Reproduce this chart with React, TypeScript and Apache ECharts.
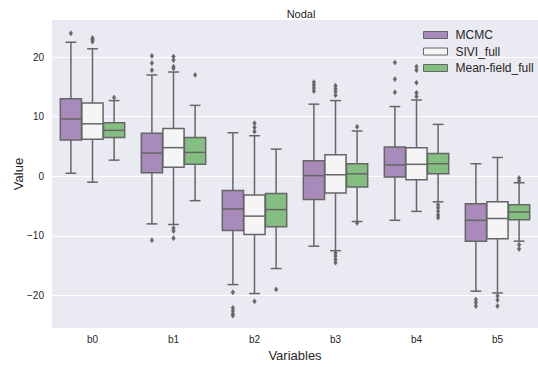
import React, { useEffect, useRef } from "react";
import * as echarts from "echarts";

const categories = ["b0", "b1", "b2", "b3", "b4", "b5"];
const seriesNames = ["MCMC", "SIVI_full", "Mean-field_full"];

// [lower whisker, Q1, median, Q3, upper whisker]
const mcmcBoxes = [
  [0.5, 6.1, 9.6, 13.0, 22.5],
  [-8.0, 0.6, 3.9, 7.2, 17.0],
  [-18.2, -9.1, -5.5, -2.4, 7.3],
  [-11.75, -3.9, 0.1, 2.6, 12.1],
  [-7.4, -0.15, 1.9, 4.9, 11.7],
  [-19.3, -10.9, -7.4, -4.6, 2.1],
];
const siviBoxes = [
  [-1.0, 6.2, 8.8, 12.3, 21.4],
  [-8.1, 1.5, 4.8, 8.0, 17.5],
  [-19.7, -9.8, -6.7, -3.15, 6.8],
  [-12.5, -2.8, 0.25, 3.6, 12.7],
  [-5.9, -0.6, 2.0, 4.8, 12.8],
  [-19.6, -10.5, -7.1, -4.3, 3.15],
];
const mfBoxes = [
  [2.7, 6.5, 7.7, 9.0, 12.7],
  [-4.1, 2.0, 4.0, 6.5, 11.9],
  [-15.5, -8.5, -5.6, -2.9, 4.55],
  [-7.6, -1.8, 0.4, 2.1, 7.6],
  [-4.3, 0.4, 2.1, 3.8, 8.7],
  [-10.9, -7.3, -6.0, -4.8, -1.1],
];

// [category index, value]
const mcmcOutliers = [
  [0, 24.0],
  [1, 20.2], [1, 19.0], [1, 17.8], [1, -10.75],
  [2, -19.5], [2, -22.1], [2, -22.6], [2, -23.1], [2, -23.4],
  [3, 14.3], [3, 14.8], [3, 15.3], [3, 15.8],
  [4, 19.1], [4, 16.3], [4, 14.1],
  [5, -20.7], [5, -21.2], [5, -21.8],
];
const siviOutliers = [
  [0, 22.6], [0, 22.9], [0, 23.2],
  [1, 18.1], [1, 18.4], [1, 19.5], [1, 20.1], [1, -8.7], [1, -9.2], [1, -10.4],
  [2, 7.5], [2, 8.2], [2, 8.9], [2, -21.0],
  [3, 13.6], [3, 14.2], [3, 14.7], [3, 15.2], [3, -12.9], [3, -13.4], [3, -14.0], [3, -14.5],
  [4, 13.4], [4, 14.0], [4, 15.7], [4, 17.8], [4, 18.4],
  [5, -20.1], [5, -20.8], [5, -21.8],
];
const mfOutliers = [
  [0, 13.2],
  [1, 17.0],
  [2, -19.0],
  [3, 8.3], [3, -7.85],
  [4, -4.8], [4, -5.3], [4, -5.9], [4, -6.5], [4, -6.95],
  [5, -0.3], [5, -0.8], [5, -11.5], [5, -12.2],
];

const fills = ["#a88bba", "#f5f5f5", "#84bf81"];
const LINE = "#666666";
const FONT = "Liberation Sans, Arial, sans-serif";

function boxRender(s: number) {
  return (params: any, api: any) => {
    const xi = api.value(0);
    const band = api.size([1, 0])[0];
    const boxW = (band * 0.8) / 3;
    const cx = api.coord([xi, 0])[0] + (s - 1) * boxW;
    const half = (boxW / 2) * 0.98;
    const cap = boxW * 0.25;
    const y = (i: number) => api.coord([xi, api.value(i)])[1];
    const yLo = y(1), yQ1 = y(2), yMed = y(3), yQ3 = y(4), yHi = y(5);
    const ls = { stroke: LINE, lineWidth: 1.5 };
    return {
      type: "group",
      children: [
        { type: "line", shape: { x1: cx, y1: yQ3, x2: cx, y2: yHi }, style: ls },
        { type: "line", shape: { x1: cx, y1: yQ1, x2: cx, y2: yLo }, style: ls },
        { type: "line", shape: { x1: cx - cap, y1: yHi, x2: cx + cap, y2: yHi }, style: ls },
        { type: "line", shape: { x1: cx - cap, y1: yLo, x2: cx + cap, y2: yLo }, style: ls },
        {
          type: "rect",
          shape: { x: cx - half, y: yQ3, width: half * 2, height: yQ1 - yQ3 },
          style: { fill: fills[s], stroke: LINE, lineWidth: 1.5 },
        },
        { type: "line", shape: { x1: cx - half, y1: yMed, x2: cx + half, y2: yMed }, style: ls },
      ],
    };
  };
}

function outlierRender(s: number) {
  return (params: any, api: any) => {
    const xi = api.value(0);
    const band = api.size([1, 0])[0];
    const boxW = (band * 0.8) / 3;
    const p = api.coord([xi, api.value(1)]);
    const cx = p[0] + (s - 1) * boxW;
    const cy = p[1];
    return {
      type: "polygon",
      shape: { points: [[cx, cy - 2.6], [cx + 1.8, cy], [cx, cy + 2.6], [cx - 1.8, cy]] },
      style: { fill: LINE, stroke: LINE, lineWidth: 0.5 },
    };
  };
}

export default function App() {
  const ref = useRef<HTMLDivElement>(null);
  useEffect(() => {
    if (!ref.current) return;
    const chart = echarts.init(ref.current, null, { renderer: "svg" });
    const boxSets = [mcmcBoxes, siviBoxes, mfBoxes];
    const outSets = [mcmcOutliers, siviOutliers, mfOutliers];
    const series: any[] = [];
    boxSets.forEach((b, s) => {
      series.push({
        type: "custom",
        name: seriesNames[s],
        renderItem: boxRender(s),
        itemStyle: { color: fills[s], borderColor: LINE, borderWidth: 1 },
        encode: { x: 0, y: [1, 2, 3, 4, 5] },
        data: b.map((v, i) => [i, ...v]),
        z: 2,
      });
    });
    outSets.forEach((o, s) => {
      series.push({
        type: "custom",
        name: seriesNames[s] + " outliers",
        renderItem: outlierRender(s),
        encode: { x: 0, y: 1 },
        data: o,
        z: 3,
      });
    });
    chart.setOption({
      animation: false,
      backgroundColor: "#ffffff",
      textStyle: { fontFamily: FONT },
      title: {
        text: "Nodal",
        left: 296,
        top: 3,
        textAlign: "center",
        textStyle: { fontSize: 11, fontWeight: "normal", color: "#262626", fontFamily: FONT },
      },
      graphic: [
        {
          type: "text",
          x: 18,
          y: 174,
          rotation: Math.PI / 2,
          style: {
            text: "Value",
            fontSize: 13,
            fontFamily: FONT,
            fill: "#262626",
            textAlign: "center",
            textVerticalAlign: "middle",
          },
        },
      ],
      grid: {
        left: 52,
        top: 19,
        right: -3,
        bottom: 38,
        show: true,
        backgroundColor: "#eaeaf2",
        borderWidth: 0,
      },
      legend: {
        orient: "vertical",
        left: 423,
        top: 29,
        padding: 0,
        itemWidth: 24,
        itemHeight: 7,
        itemGap: 4.5,
        icon: "rect",
        textStyle: { fontSize: 12, color: "#262626", fontFamily: FONT, padding: [0, 0, 0, 3] },
        data: seriesNames.map((n, s) => ({
          name: n,
          itemStyle: { color: fills[s], borderColor: LINE, borderWidth: 1 },
        })),
      },
      xAxis: {
        type: "category",
        data: categories,
        name: "Variables",
        nameLocation: "middle",
        nameGap: 16,
        nameTextStyle: { fontSize: 13, color: "#262626", fontFamily: FONT },
        axisLine: { show: false },
        axisTick: { show: false },
        axisLabel: { fontSize: 10, color: "#262626", margin: 6 },
        splitLine: { show: false },
      },
      yAxis: {
        type: "value",
        min: -25.5,
        max: 26.4,
        axisLine: { show: false },
        axisTick: { show: false },
        axisLabel: {
          fontSize: 10,
          color: "#262626",
          margin: 8,
          showMinLabel: false,
          showMaxLabel: false,
          formatter: (v: number) => String(v).replace("-", "\u2212"),
        },
        splitLine: { show: true, lineStyle: { color: "#ffffff", width: 1 } },
      },
      series,
    });
    return () => chart.dispose();
  }, []);
  return (
    <div
      ref={ref}
      style={{ position: "fixed", left: 0, top: 0, width: 538, height: 367 }}
    />
  );
}
